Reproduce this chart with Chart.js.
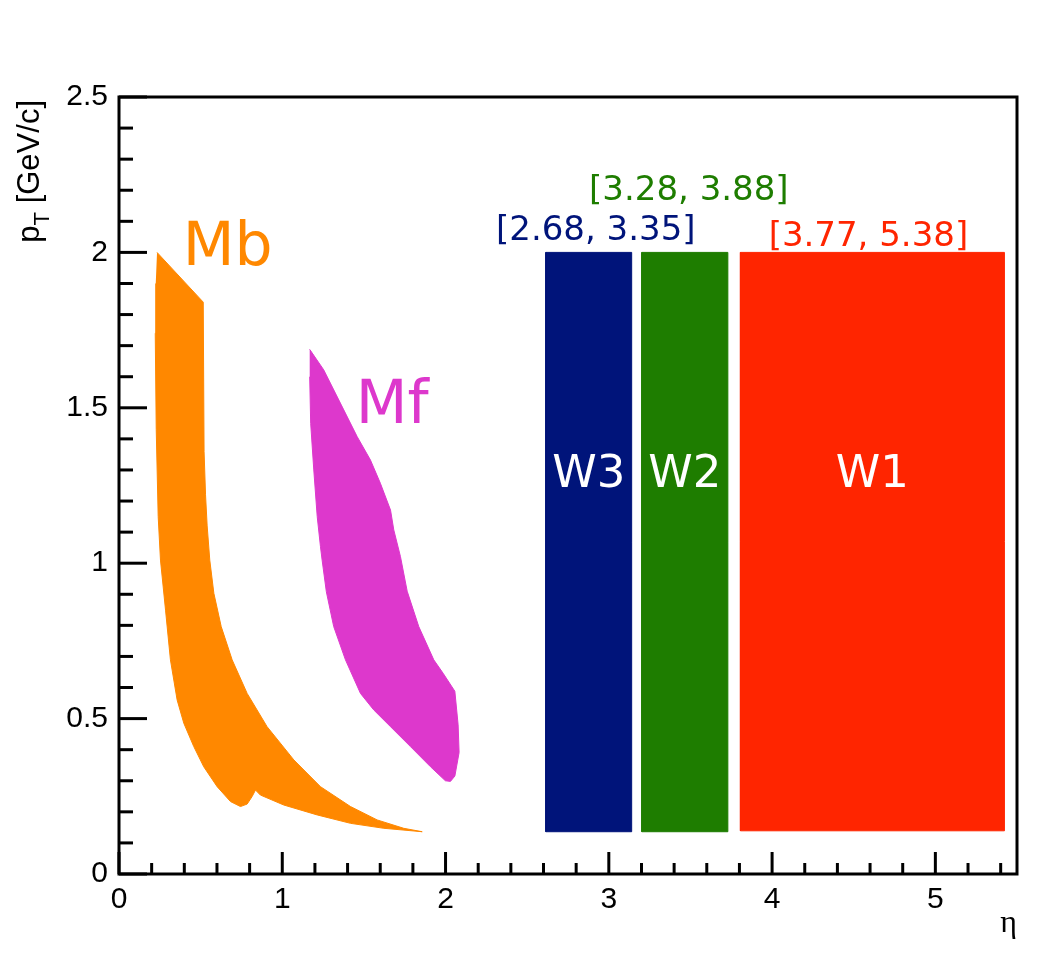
<!DOCTYPE html>
<html>
<head>
<meta charset="utf-8">
<title>Acceptance</title>
<script src="https://cdn.jsdelivr.net/npm/chart.js@4.4.1/dist/chart.umd.min.js"></script>
<style>
  html, body { margin: 0; padding: 0; background: #fff; }
</style>
</head>
<body>
<canvas id="acc" width="1050" height="972"></canvas>
<script>
// --- данные: контуры областей (eta, pT) ---
const mbEta = [0.233, 0.516, 0.521, 0.530, 0.540, 0.556, 0.581, 0.626, 0.693, 0.785, 0.907, 1.071, 1.234,
  1.418, 1.581, 1.744, 1.857, 1.622, 1.418, 1.214, 1.009, 0.866, 0.836, 0.815, 0.785, 0.744, 0.683,
  0.601, 0.519, 0.458, 0.397, 0.356, 0.315, 0.285, 0.254, 0.240, 0.228, 0.222, 0.225];
const mbPt = [2.000, 1.840, 1.360, 1.220, 1.120, 1.010, 0.903, 0.796, 0.689, 0.581, 0.474, 0.367, 0.281,
  0.217, 0.174, 0.147, 0.136, 0.147, 0.163, 0.190, 0.222, 0.254, 0.270, 0.249, 0.225, 0.217, 0.233,
  0.281, 0.345, 0.410, 0.485, 0.560, 0.689, 0.849, 1.010, 1.150, 1.430, 1.740, 1.900];

const mfEta = [1.168, 1.254, 1.377, 1.459, 1.540, 1.601, 1.663, 1.683, 1.724, 1.765, 1.836, 1.928, 1.985,
  2.057, 2.077, 2.083, 2.057, 2.030, 1.999, 1.908, 1.785, 1.663, 1.560, 1.479, 1.387, 1.315, 1.270,
  1.244, 1.234, 1.214, 1.193, 1.174, 1.168];
const mfPt = [1.688, 1.622, 1.493, 1.407, 1.332, 1.257, 1.171, 1.107, 1.021, 0.910, 0.796, 0.689, 0.646,
  0.588, 0.480, 0.391, 0.315, 0.298, 0.300, 0.345, 0.410, 0.474, 0.528, 0.581, 0.689, 0.796, 0.908,
  1.010, 1.053, 1.150, 1.300, 1.450, 1.600];

// окна W3, W2, W1
const winNames = ['W3', 'W2', 'W1'];
const winEtaMin = [2.614, 3.202, 3.806];
const winEtaMax = [3.140, 3.729, 5.423];
const winPtMin = [0.136, 0.136, 0.139];
const winPtMax = [2.0, 2.0, 2.0];
const winRanges = ['[2.68, 3.35]', '[3.28, 3.88]', '[3.77, 5.38]'];

const xTickValues = [0, 1, 2, 3, 4, 5];
const yTickValues = [0, 0.5, 1, 1.5, 2, 2.5];

// --- оформление ---
const colMb = 'rgb(255,136,0)';
const colMf = 'rgb(221,56,204)';
const winColors = ['rgb(0,20,122)', 'rgb(30,125,0)', 'rgb(255,37,0)'];
const rangeX = [2.92, 3.49, 4.59];
const rangeY = [2.04, 2.17, 2.02];       // базовая линия подписей диапазонов
const winLabelY = 1.245;
const sansFamily = '"Liberation Sans", Arial, sans-serif';
const textFont = '"DejaVu Sans", sans-serif';

function toPoints(xs, ys) {
  return xs.map((x, i) => ({ x: x, y: ys[i] }));
}

function polygon(label, pts, color) {
  return {
    label: label,
    data: pts,
    showLine: true,
    fill: 'shape',
    backgroundColor: color,
    borderColor: color,
    borderWidth: 1,
    pointRadius: 0,
    tension: 0
  };
}

const datasets = [
  polygon('Mb', toPoints(mbEta, mbPt), colMb),
  polygon('Mf', toPoints(mfEta, mfPt), colMf)
];
winNames.forEach((n, i) => {
  const x0 = winEtaMin[i], x1 = winEtaMax[i], y0 = winPtMin[i], y1 = winPtMax[i];
  datasets.push(polygon(n, [{x: x0, y: y0}, {x: x1, y: y0}, {x: x1, y: y1}, {x: x0, y: y1}, {x: x0, y: y0}], winColors[i]));
});

// рамка, внутренние засечки и подписи в стиле ROOT
const rootFrame = {
  id: 'rootFrame',
  afterDatasetsDraw(chart) {
    const ctx = chart.ctx;
    const a = chart.chartArea;
    const xs = chart.scales.x, ys = chart.scales.y;
    ctx.save();
    ctx.strokeStyle = '#000';
    ctx.lineWidth = 3;

    // засечки по Y
    for (let i = 0; i <= 25; i++) {
      const py = ys.getPixelForValue(i / 10);
      const len = i % 5 === 0 ? 28 : 14;
      ctx.beginPath();
      ctx.moveTo(a.left, py);
      ctx.lineTo(a.left + len, py);
      ctx.stroke();
    }
    // засечки по X
    for (let i = 0; i <= 27; i++) {
      const px = xs.getPixelForValue(i / 5);
      const len = i % 5 === 0 ? 22 : 11;
      ctx.beginPath();
      ctx.moveTo(px, a.bottom);
      ctx.lineTo(px, a.bottom - len);
      ctx.stroke();
    }
    ctx.strokeRect(a.left, a.top, a.right - a.left, a.bottom - a.top);

    // подписи областей
    ctx.textBaseline = 'alphabetic';
    ctx.textAlign = 'left';
    ctx.font = '60px ' + textFont;
    ctx.fillStyle = colMb;
    ctx.fillText('Mb', xs.getPixelForValue(0.39), ys.getPixelForValue(1.96));
    ctx.fillStyle = colMf;
    ctx.fillText('Mf', xs.getPixelForValue(1.45), ys.getPixelForValue(1.45));

    ctx.textAlign = 'center';
    winNames.forEach((n, i) => {
      const cx = xs.getPixelForValue((winEtaMin[i] + winEtaMax[i]) / 2);
      ctx.font = '45px ' + textFont;
      ctx.fillStyle = '#fff';
      ctx.fillText(n, cx, ys.getPixelForValue(winLabelY));
    });
    winRanges.forEach((t, i) => {
      ctx.font = '34px ' + textFont;
      ctx.fillStyle = winColors[i];
      ctx.fillText(t, xs.getPixelForValue(rangeX[i]), ys.getPixelForValue(rangeY[i]));
    });

    // заголовки осей
    ctx.fillStyle = '#000';
    ctx.font = '32px "Liberation Serif", serif';
    ctx.textAlign = 'right';
    ctx.fillText('η', a.right, 932);

    ctx.translate(39, a.top + 3);
    ctx.rotate(-Math.PI / 2);
    ctx.textAlign = 'left';
    const big = '31px ' + sansFamily;
    const small = '22px ' + sansFamily;
    ctx.font = big;
    const wP = ctx.measureText('p').width;
    const wRest = ctx.measureText(' [GeV/c]').width;
    ctx.font = small;
    const wT = ctx.measureText('T').width;
    const x0 = -(wP + wT + wRest);
    ctx.font = big;
    ctx.fillText('p', x0, 0);
    ctx.font = small;
    ctx.fillText('T', x0 + wP, 10);
    ctx.font = big;
    ctx.fillText(' [GeV/c]', x0 + wP + wT, 0);
    ctx.restore();
  }
};

new Chart(document.getElementById('acc'), {
  type: 'scatter',
  data: { datasets: datasets },
  options: {
    responsive: false,
    animation: false,
    layout: { padding: { top: 97, right: 33, left: 0, bottom: 0 } },
    plugins: {
      legend: { display: false },
      tooltip: { enabled: false }
    },
    scales: {
      x: {
        type: 'linear',
        min: 0,
        max: 5.5,
        grid: { display: false },
        border: { display: false },
        afterFit: s => { s.height = 98; },
        afterBuildTicks: s => { s.ticks = xTickValues.map(v => ({ value: v })); },
        ticks: {
          color: '#000',
          font: { family: sansFamily, size: 30 },
          padding: 0,
          maxRotation: 0,
          callback: v => String(v)
        }
      },
      y: {
        type: 'linear',
        min: 0,
        max: 2.5,
        grid: { display: false },
        border: { display: false },
        afterFit: s => { s.width = 119; },
        afterBuildTicks: s => { s.ticks = yTickValues.map(v => ({ value: v })); },
        ticks: {
          color: '#000',
          font: { family: sansFamily, size: 30 },
          padding: 3,
          callback: v => String(v)
        }
      }
    }
  },
  plugins: [rootFrame]
});
</script>
</body>
</html>
